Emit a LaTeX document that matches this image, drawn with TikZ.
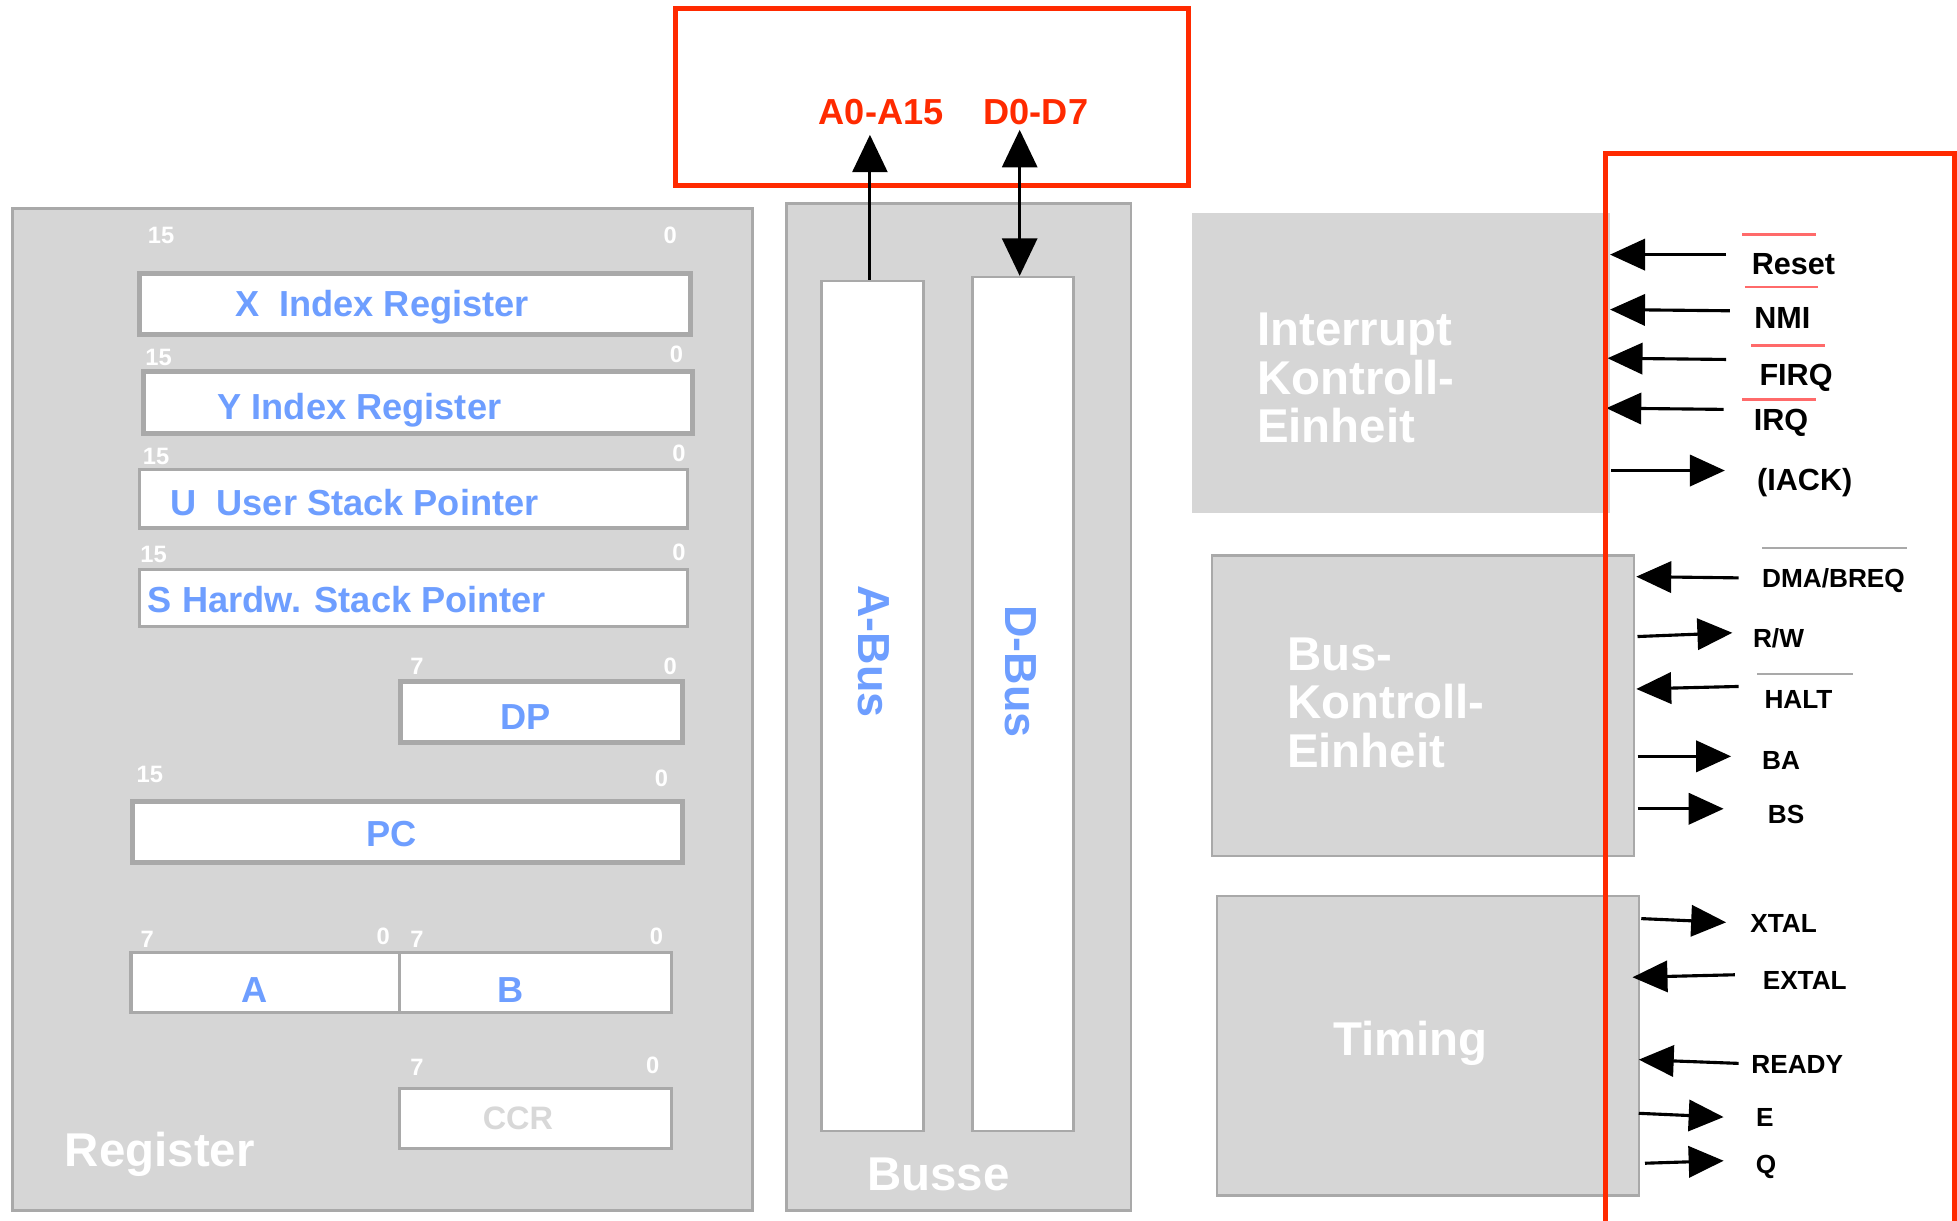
\documentclass[tikz,border=0pt]{standalone}
\usepackage{fontspec}
\setmainfont{Liberation Sans}
\usetikzlibrary{arrows.meta,fit}
\definecolor{panelgray}{HTML}{D6D6D6}
\definecolor{edgegray}{HTML}{A9A9A9}
\definecolor{regblue}{HTML}{6E9EFF}
\definecolor{sigred}{HTML}{FF2A00}
\definecolor{barred}{HTML}{FF6A6A}
\definecolor{ccrgray}{HTML}{D8D8D8}
\begin{document}
\begin{tikzpicture}[x=1pt,y=-1pt,
  panel/.style={draw=edgegray, line width=2pt, fill=panelgray, inner sep=0pt},
  plainpanel/.style={fill=panelgray, inner sep=0pt},
  thickreg/.style={draw=edgegray, line width=4pt, fill=white, inner sep=0pt},
  thinreg/.style={draw=edgegray, line width=2.5pt, fill=white, inner sep=0pt},
  busbox/.style={draw=edgegray, line width=2pt, fill=white, inner sep=0pt},
  redbox/.style={draw=sigred, line width=4pt},
  regtxt/.style={text=regblue, anchor=base, inner sep=0pt, font=\fontsize{29}{35}\selectfont\bfseries},
  bitnum/.style={text=white, anchor=base, inner sep=0pt, font=\fontsize{19}{23}\selectfont\bfseries},
  bigwhite/.style={text=white, inner sep=0pt, font=\fontsize{38}{39}\selectfont\bfseries},
  bustxt/.style={text=regblue, inner sep=0pt, rotate=-90, font=\fontsize{36}{40}\selectfont\bfseries},
  pintxt/.style={text=sigred, anchor=base, inner sep=0pt, font=\fontsize{29}{35}\selectfont\bfseries},
  sigA/.style={anchor=base, inner sep=0pt, font=\fontsize{24.5}{29}\selectfont\bfseries},
  sigB/.style={anchor=base, inner sep=0pt, font=\fontsize{21}{25}\selectfont\bfseries},
  sig/.style={line width=2.5pt, -{Triangle[length=28pt,width=25pt]}},
  bigarr/.style={line width=2.5pt, -{Triangle[length=30pt,width=28pt]}},
  dblarr/.style={line width=2.5pt, {Triangle[length=30pt,width=28pt]}-{Triangle[length=30pt,width=28pt]}},
  barR/.style={draw=barred, line width=2pt},
  barG/.style={draw=edgegray, line width=2pt}]
\useasboundingbox (0,0) rectangle (1568,978);

% ---------------- Register panel ----------------
\node[panel, fit={(10,167) (603,970)}] (regpanel) {};
\node[thickreg, fit={(112,219) (553,268)}] (xreg) {};
\node[thickreg, fit={(115,298) (555,347)}] (yreg) {};
\node[thinreg, fit={(112,376) (551,423)}] (ureg) {};
\node[thinreg, fit={(112,456) (551,502)}] (sreg) {};
\node[thickreg, fit={(321,546) (547,595)}] (dpreg) {};
\node[thickreg, fit={(106,642) (547,691)}] (pcreg) {};
\node[thinreg, fit={(105,763) (320,811)}] (areg) {};
\node[thinreg, fit={(320,763) (538,811)}] (breg) {};
\node[thinreg, fit={(320,872) (538,920)}] (ccrreg) {};

\node[regtxt] (xtxt) at (306,253.4) {X\ \ Index Register};
\node[regtxt] (ytxt) at (288,336.4) {Y Index Register};
\node[regtxt] (utxt) at (284,413.4) {U\ \ User Stack Pointer};
\node[regtxt] (stxt) at (278,490.4) {S Hardw. Stack Pointer};
\node[regtxt] (dptxt) at (421,584.4) {DP};
\node[regtxt] (pctxt) at (314,678.4) {PC};
\node[regtxt] (atxt) at (204,803.4) {A};
\node[regtxt] (btxt) at (409,803.4) {B};
\node[regtxt, text=ccrgray, font=\fontsize{26}{31}\selectfont\bfseries] (ccrtxt) at (415,905.3) {CCR};

\node[bitnum] (n1a) at (129,194.8) {15};
\node[bitnum] (n1b) at (537,194.8) {0};
\node[bitnum] (n2a) at (127,292.8) {15};
\node[bitnum] (n2b) at (542,290.8) {0};
\node[bitnum] (n3a) at (125,371.8) {15};
\node[bitnum] (n3b) at (544,369.8) {0};
\node[bitnum] (n4a) at (123,450.8) {15};
\node[bitnum] (n4b) at (544,448.8) {0};
\node[bitnum] (n5a) at (334,540.8) {7};
\node[bitnum] (n5b) at (537,540.8) {0};
\node[bitnum] (n6a) at (120,626.8) {15};
\node[bitnum] (n6b) at (530,629.8) {0};
\node[bitnum] (n7a) at (118,758.8) {7};
\node[bitnum] (n7b) at (307,756.8) {0};
\node[bitnum] (n7c) at (334,758.8) {7};
\node[bitnum] (n7d) at (526,756.8) {0};
\node[bitnum] (n8a) at (334,861.8) {7};
\node[bitnum] (n8b) at (523,859.8) {0};

\node[bigwhite, anchor=base] (regname) at (128,935) {Register};

% ---------------- Busse panel ----------------
\node[panel, fit={(630,163) (906,970)}] (bussepanel) {};
\node[busbox, fit={(658,225) (740,906)}] (abus) {};
\node[busbox, fit={(779,222) (860,906)}] (dbus) {};
\node[bustxt] (abustxt) at (700,522) {A-Bus};
\node[bustxt] (dbustxt) at (818,538) {D-Bus};
\node[bigwhite, anchor=base] (bussename) at (752,953.5) {Busse};

% ---------------- External pins (top) ----------------
\node[redbox, inner sep=0pt, fit={(541,7) (952,149)}] (pinbox) {};
\node[pintxt] (atop) at (706,99.4) {A0-A15};
\node[pintxt] (dtop) at (830,99.4) {D0-D7};
\coordinate (atip) at (697,108);
\coordinate (dtip) at (817,104);
\draw[bigarr] (abus.north -| atip) -- (atip);
\draw[dblarr] (dtip) -- (dbus.north -| dtip);

% ---------------- Interrupt unit ----------------
\node[plainpanel, fit={(955,171) (1290,411)}] (intpanel) {};
\node[bigwhite, align=left, anchor=west] (inttxt) at (1007,303) {Interrupt\\Kontroll-\\Einheit};

\node[sigA] (reset) at (1437,220) {Reset};
\node[sigA] (nmi) at (1428,263) {NMI};
\node[sigA] (firq) at (1439,309) {FIRQ};
\node[sigA] (irq) at (1427,345) {IRQ};
\node[sigA] (iack) at (1446,393) {(IACK)};
\draw[barR] (1396,188) -- (1455,188);
\draw[barR] (1398,230) -- (1457,230);
\draw[barR] (1403,277) -- (1462,277);
\draw[barR] (1396,320) -- (1455,320);

\coordinate (resetS) at (1383,204); \coordinate (resetE) at (1290,204);
\coordinate (nmiS) at (1386,249);   \coordinate (nmiE) at (1290,248);
\coordinate (firqS) at (1383,288);  \coordinate (firqE) at (1288,287);
\coordinate (irqS) at (1381,328);   \coordinate (irqE) at (1287,327);
\coordinate (iackS) at (1291,377);  \coordinate (iackE) at (1382,377);
\draw[sig] (resetS) -- (resetE);
\draw[sig] (nmiS) -- (nmiE);
\draw[sig] (firqS) -- (firqE);
\draw[sig] (irqS) -- (irqE);
\draw[sig] (iackS) -- (iackE);

% ---------------- Bus control unit ----------------
\node[panel, fit={(971,445) (1309,686)}] (buspanel) {};
\node[bigwhite, align=left, anchor=west] (bustxtc) at (1031,563) {Bus-\\Kontroll-\\Einheit};

\node[sigB] (dma) at (1469,470.5) {DMA/BREQ};
\node[sigB] (rw) at (1425,518.5) {R/W};
\node[sigB] (halt) at (1441,567.5) {HALT};
\node[sigB] (ba) at (1427,616.5) {BA};
\node[sigB] (bs) at (1431,659.5) {BS};
\draw[barG] (1412,439) -- (1528,439);
\draw[barG] (1408,540) -- (1485,540);

\coordinate (dmaS) at (1393,463);  \coordinate (dmaE) at (1311,462);
\coordinate (rwS) at (1312,510);   \coordinate (rwE) at (1388,507);
\coordinate (haltS) at (1393,550); \coordinate (haltE) at (1311,552);
\coordinate (baS) at (1312,606);   \coordinate (baE) at (1387,606);
\coordinate (bsS) at (1312,648);   \coordinate (bsE) at (1381,648);
\draw[sig] (dmaS) -- (dmaE);
\draw[sig] (rwS) -- (rwE);
\draw[sig] (haltS) -- (haltE);
\draw[sig] (baS) -- (baE);
\draw[sig] (bsS) -- (bsE);

% ---------------- Timing unit ----------------
\node[panel, fit={(975,718) (1313,958)}] (timpanel) {};
\node[bigwhite, anchor=base] (timtxt) at (1130,845.5) {Timing};

\node[sigB] (xtal) at (1429,747.5) {XTAL};
\node[sigB] (extal) at (1446,792.5) {EXTAL};
\node[sigB] (ready) at (1440,860.5) {READY};
\node[sigB] (esig) at (1414,902.5) {E};
\node[sigB] (qsig) at (1415,940.5) {Q};

\coordinate (xtalS) at (1315,736);  \coordinate (xtalE) at (1383,739);
\coordinate (extalS) at (1390,781); \coordinate (extalE) at (1308,783);
\coordinate (readyS) at (1393,852); \coordinate (readyE) at (1313,849);
\coordinate (eS) at (1313,892);     \coordinate (eE) at (1381,895);
\coordinate (qS) at (1318,932);     \coordinate (qE) at (1381,930);
\draw[sig] (xtalS) -- (xtalE);
\draw[sig] (extalS) -- (extalE);
\draw[sig] (readyS) -- (readyE);
\draw[sig] (eS) -- (eE);
\draw[sig] (qS) -- (qE);

% ---------------- Red pin frame (right) ----------------
\draw[redbox] (1286,990) -- (1286,123) -- (1566,123) -- (1566,990);
\end{tikzpicture}
\end{document}
